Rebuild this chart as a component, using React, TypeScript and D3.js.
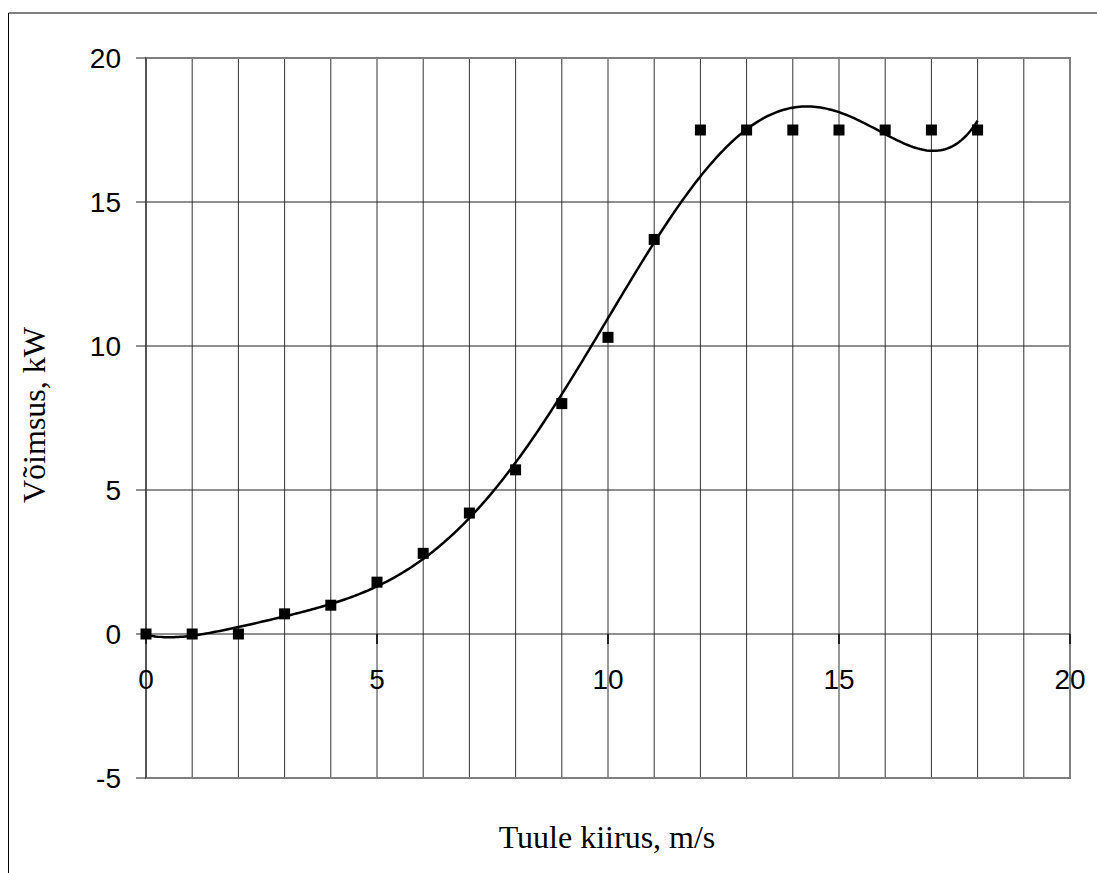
import React from "react";
import * as d3 from "d3";

const windSpeed = [0, 1, 2, 3, 4, 5, 6, 7, 8, 9, 10, 11, 12, 13, 14, 15, 16, 17, 18];
const power = [0, 0, 0, 0.7, 1.0, 1.8, 2.8, 4.2, 5.7, 8.0, 10.3, 13.7, 17.5, 17.5, 17.5, 17.5, 17.5, 17.5, 17.5];
const xTicks = [0, 5, 10, 15, 20];
const yTicks = [-5, 0, 5, 10, 15, 20];
const xGrid = d3.range(1, 20);
const yGrid = [5, 10, 15];
const trendOrder = 6;

// least-squares polynomial trendline (as the spreadsheet computed it from the data)
function polyFit(xs: number[], ys: number[], order: number) {
  const s = d3.max(xs) || 1;
  const n = order + 1;
  const A: number[][] = Array.from({ length: n }, () => new Array(n + 1).fill(0));
  xs.forEach((xv, k) => {
    const t = xv / s;
    for (let i = 0; i < n; i++) {
      for (let j = 0; j < n; j++) A[i][j] += Math.pow(t, i + j);
      A[i][n] += Math.pow(t, i) * ys[k];
    }
  });
  for (let c = 0; c < n; c++) {
    let p = c;
    for (let r = c + 1; r < n; r++) if (Math.abs(A[r][c]) > Math.abs(A[p][c])) p = r;
    [A[c], A[p]] = [A[p], A[c]];
    for (let r = 0; r < n; r++) {
      if (r === c) continue;
      const f = A[r][c] / A[c][c];
      for (let k = c; k <= n; k++) A[r][k] -= f * A[c][k];
    }
  }
  const coef = A.map((row, i) => row[n] / row[i]);
  return (xv: number) => coef.reduce((acc, cf, i) => acc + cf * Math.pow(xv / s, i), 0);
}

export default function App() {
  const W = 1097, H = 873;
  const x = d3.scaleLinear().domain([0, 20]).range([146, 1070]);
  const y = d3.scaleLinear().domain([-5, 20]).range([778, 58]);
  const fit = polyFit(windSpeed, power, trendOrder);
  const curvePts = d3.range(0, 18.0001, 0.05).map((v) => [v, fit(v)] as [number, number]);
  const line = d3.line<[number, number]>().x((d) => x(d[0])).y((d) => y(d[1])).curve(d3.curveLinear);
  const tickFont = "'Liberation Sans', Arial, sans-serif";
  const titleFont = "'Liberation Serif', 'Times New Roman', serif";
  return (
    <svg width={W} height={H} style={{ position: "absolute", left: 0, top: 0, background: "#fff" }}>
      <rect x={0} y={0} width={W} height={H} fill="#fff" />
      {/* outer frame */}
      <line x1={8.5} y1={13} x2={W} y2={13} stroke="#000" strokeWidth={1} />
      <line x1={8.5} y1={13} x2={8.5} y2={H} stroke="#000" strokeWidth={1} />
      {/* grid */}
      {xGrid.map((g) => (
        <line key={"vx" + g} x1={x(g)} x2={x(g)} y1={y(20)} y2={y(-5)} stroke="#333" strokeWidth={1} />
      ))}
      {yGrid.map((g) => (
        <line key={"hy" + g} x1={x(0)} x2={x(20)} y1={y(g)} y2={y(g)} stroke="#222" strokeWidth={1} />
      ))}
      {/* plot border */}
      <rect x={x(0)} y={y(20)} width={x(20) - x(0)} height={y(-5) - y(20)} fill="none" stroke="#808080" strokeWidth={2} />
      {/* x axis at zero */}
      <line x1={x(0)} x2={x(20)} y1={y(0)} y2={y(0)} stroke="#222" strokeWidth={1} />
      {/* y axis */}
      <line x1={x(0)} x2={x(0)} y1={y(20)} y2={y(-5)} stroke="#555" strokeWidth={2} />
      {/* y ticks */}
      {yTicks.map((t) => (
        <g key={"yt" + t}>
          <line x1={x(0) - 10} x2={x(0)} y1={y(t)} y2={y(t)} stroke="#222" strokeWidth={1} />
          <text x={121} y={y(t)} dy="0.36em" textAnchor="end" fontFamily={tickFont} fontSize={28} fill="#000">
            {t}
          </text>
        </g>
      ))}
      {/* x ticks */}
      {xTicks.map((t) => (
        <g key={"xt" + t}>
          <line x1={x(t)} x2={x(t)} y1={y(0)} y2={y(0) + 10} stroke="#222" strokeWidth={2} />
          <text x={x(t)} y={689} textAnchor="middle" fontFamily={tickFont} fontSize={28} fill="#000">
            {t}
          </text>
        </g>
      ))}
      {/* trendline */}
      <path d={line(curvePts) || ""} fill="none" stroke="#000" strokeWidth={2.5} />
      {/* markers */}
      {windSpeed.map((v, i) => (
        <rect key={"m" + i} x={x(v) - 5.5} y={y(power[i]) - 5.5} width={11} height={11} fill="#000" />
      ))}
      {/* titles */}
      <text x={607} y={848} textAnchor="middle" fontFamily={titleFont} fontSize={32} fill="#000">
        Tuule kiirus, m/s
      </text>
      <text
        transform={`translate(45, 415) rotate(-90)`}
        textAnchor="middle"
        fontFamily={titleFont}
        fontSize={32}
        fill="#000"
      >
        Võimsus, kW
      </text>
    </svg>
  );
}
